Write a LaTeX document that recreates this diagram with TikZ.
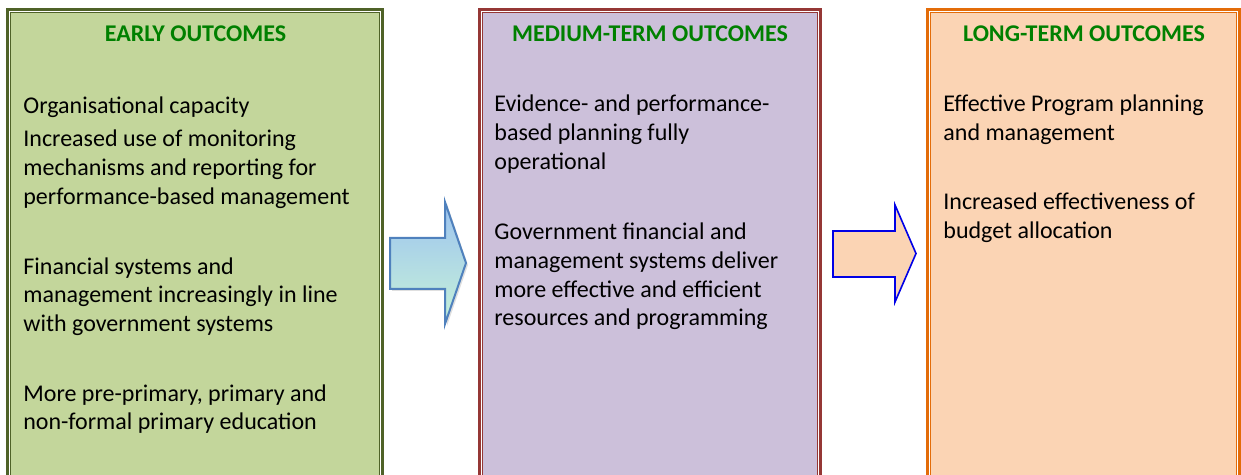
\documentclass[tikz,border=0pt]{standalone}
\usepackage{fontspec}
\setmainfont{Carlito}
\usetikzlibrary{shadows}
\definecolor{earlyline}{HTML}{4F6228}
\definecolor{earlyfill}{HTML}{C3D69B}
\definecolor{midline}{HTML}{953735}
\definecolor{midfill}{HTML}{CCC0DA}
\definecolor{longline}{HTML}{E36C09}
\definecolor{longfill}{HTML}{FBD4B4}
\definecolor{headgreen}{HTML}{008000}
\definecolor{arrowline}{HTML}{4F81BD}
\definecolor{arrowtop}{HTML}{9DC3F0}
\definecolor{arrowbottom}{HTML}{C6F2D8}
\definecolor{arrowblue}{HTML}{0000E6}
\tikzset{
  outframe/.style={line width=1.5pt},
  inframe/.style={line width=0.5pt},
  heading/.style={anchor=base, inner sep=0pt, text=headgreen,
    font=\bfseries\fontsize{12}{14.5}\selectfont},
  para/.style={anchor=north west, inner sep=0pt, align=left,
    font=\fontsize{12}{14.4}\selectfont, execute at begin node=\strut},
}
\begin{document}
\begin{tikzpicture}[x=0.5pt,y=-0.5pt]
  \useasboundingbox (0,0) rectangle (1241,475);
  \clip (0,0) rectangle (1241,475);
  \draw[outframe,earlyline] (7.5,9.5) rectangle (382.5,520);
  \draw[inframe,earlyline,fill=earlyfill] (10.5,12.5) rectangle (379.5,520);
  \draw[outframe,midline] (479.5,9.5) rectangle (820.5,520);
  \draw[inframe,midline,fill=midfill] (482.5,12.5) rectangle (817.5,520);
  \draw[outframe,longline] (927.5,9.5) rectangle (1239.5,520);
  \draw[inframe,longline,fill=longfill] (930.5,12.5) rectangle (1236.5,520);
  \node[heading] (earlytitle) at (195.5,41.5) {EARLY OUTCOMES};
  \node[heading] (midtitle) at (650,41.5) {MEDIUM-TERM OUTCOMES};
  \node[heading] (longtitle) at (1084,41.5) {LONG-TERM OUTCOMES};
  \node[para] (early1) at (23,92.5) {Organisational capacity};
  \node[para] (early2) at (23,129.5) {Increased use of monitoring\\
    mechanisms and reporting for\\performance-based management};
  \node[para] (early3) at (23,257) {Financial systems and\\
    management increasingly in line\\with government systems};
  \node[para] (early4) at (23,384) {More pre-primary, primary and\\
    non-formal primary education};
  \node[para] (mid1) at (494,94.5) {Evidence- and performance-\\
    based planning fully\\operational};
  \node[para] (mid2) at (494,222.5) {Government financial and\\
    management systems deliver\\more effective and efficient\\
    resources and programming};
  \node[para] (long1) at (943,94.5) {Effective Program planning\\
    and management};
  \node[para] (long2) at (943,192.5) {Increased effectiveness of\\
    budget allocation};
  \draw[line width=1pt,arrowline,top color=arrowtop,bottom color=arrowbottom,
    drop shadow={shadow xshift=1pt,shadow yshift=-1pt,opacity=0.25}]
    (390,238) -- (445,238) -- (445,202) -- (466,263) -- (445,324)
    -- (445,289) -- (390,289) -- cycle;
  \draw[line width=0.8pt,arrowblue,fill=longfill]
    (833,231) -- (895,231) -- (895,205) -- (916,253.5) -- (895,302)
    -- (895,277) -- (833,277) -- cycle;
\end{tikzpicture}
\end{document}
